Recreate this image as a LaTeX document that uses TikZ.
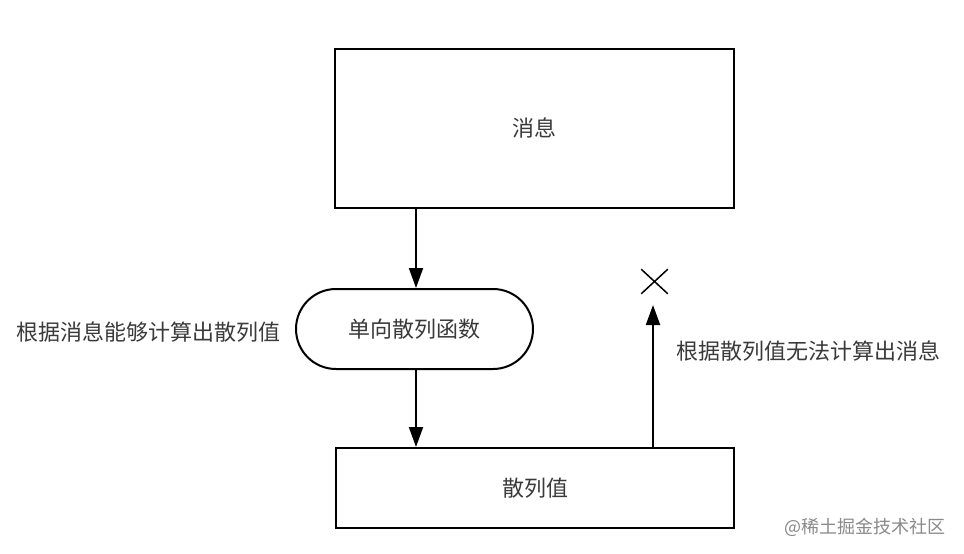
\documentclass[tikz,border=0pt]{standalone}
\usepackage{fontspec}
\newfontfamily\cjk{Noto Sans CJK SC}
\usetikzlibrary{arrows.meta,shapes.misc}
\definecolor{txt}{HTML}{3A3A3A}
\definecolor{wm}{HTML}{8A8A8A}
\begin{document}
\begin{tikzpicture}[x=1pt,y=-1pt,
  box/.style={draw=black,line width=2pt,inner sep=0pt,font=\cjk\fontsize{22}{26}\selectfont,text=txt},
  lbl/.style={inner sep=0pt,font=\cjk\fontsize{22}{26}\selectfont,text=txt},
  arr/.style={line width=2pt,-{Triangle[length=20pt,width=14pt]}}]
\useasboundingbox[fill=white] (0,0) rectangle (964,554);
\node[box,minimum width=399pt,minimum height=159pt] (msg) at (534.5,128.5) {消息};
\node[box,rounded rectangle,minimum width=237pt,minimum height=80pt] (fn) at (414.5,329) {单向散列函数};
\node[box,minimum width=398pt,minimum height=80pt] (hash) at (535,488) {散列值};
\coordinate (tip) at (653,305);
\node[draw=black,line width=1.5pt,cross out,minimum width=25pt,minimum height=23pt,inner sep=0pt] (cross) at (654.5,281.5) {};
\node[lbl,anchor=west] (l1) at (16,332) {根据消息能够计算出散列值};
\node[lbl,anchor=west] (l2) at (676,351) {根据散列值无法计算出消息};
\node[inner sep=0pt,anchor=east,font=\cjk\fontsize{18}{22}\selectfont,text=wm] (wmk) at (946,527) {@稀土掘金技术社区};
\draw[arr] (msg.south -| 416,0) -- (fn.north -| 416,0);
\draw[arr] (fn.south -| 416,0) -- (hash.north -| 416,0);
\draw[arr] (hash.north -| tip) -- (tip);
\end{tikzpicture}
\end{document}
